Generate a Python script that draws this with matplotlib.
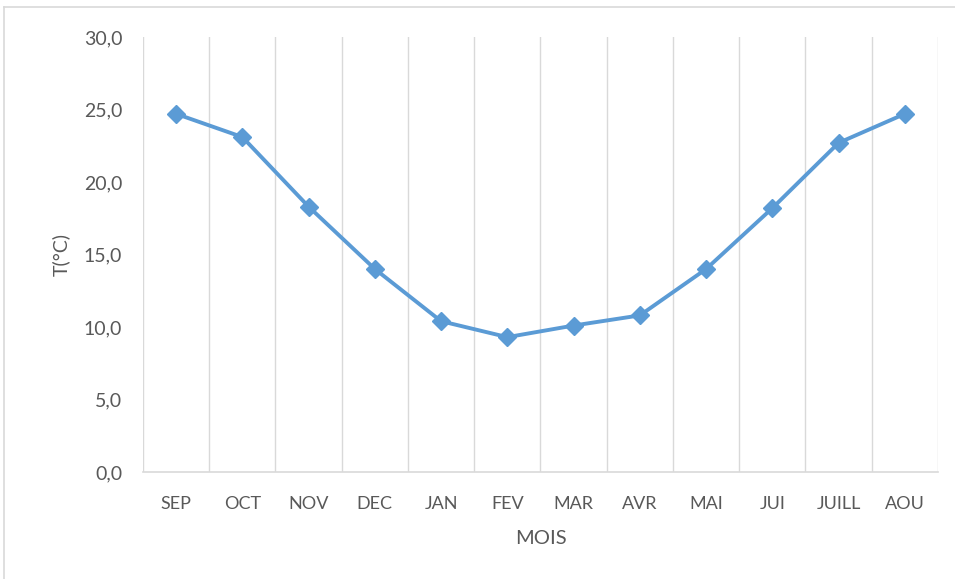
import numpy as np
import matplotlib.pyplot as plt
from matplotlib.lines import Line2D

# monthly mean temperatures
mois = ['SEP', 'OCT', 'NOV', 'DEC', 'JAN', 'FEV', 'MAR', 'AVR', 'MAI', 'JUI', 'JUILL', 'AOU']
temp = [24.7, 23.1, 18.3, 14.0, 10.4, 9.3, 10.1, 10.8, 14.0, 18.2, 22.7, 24.7]
y_ticks = [0, 5, 10, 15, 20, 25, 30]

plt.rcParams['font.family'] = ['Lato', 'DejaVu Sans']

fig = plt.figure(figsize=(9.55, 5.79), dpi=100)
ax = fig.add_axes([0.1497, 0.1848, 0.8325, 0.7513])

x = np.arange(len(mois))
ax.plot(x, temp, color='#5B9BD5', linewidth=2.8, marker='D', markersize=9.5)

ax.set_xlim(-0.5, len(mois) - 0.5)
ax.set_ylim(0, 30)
ax.set_yticks(y_ticks)
ax.set_yticklabels([f'{v:.1f}'.replace('.', ',') for v in y_ticks])
ax.set_xticks(x)
ax.set_xticklabels(mois)

# vertical gridlines between categories
ax.set_xticks(np.arange(-0.5, len(mois), 1), minor=True)
ax.grid(which='minor', axis='x', color='#D9D9D9', linewidth=1)
ax.tick_params(which='minor', length=0)
ax.tick_params(axis='x', length=0, pad=17, labelsize=13, labelcolor='#595959')
ax.tick_params(axis='y', length=0, pad=15, labelsize=14, labelcolor='#595959')

for s in ['top', 'right', 'left']:
    ax.spines[s].set_visible(False)
ax.spines['bottom'].set_color('#D9D9D9')
ax.spines['bottom'].set_linewidth(1.2)

ax.set_xlabel('MOIS', fontsize=14.5, color='#595959', labelpad=13)
ax.set_ylabel('T(°C)', fontsize=14, color='#595959', labelpad=10)

# chart frame
fig.add_artist(Line2D([0.004, 1.0], [0.988, 0.988], color='#D9D9D9', linewidth=1.2))
fig.add_artist(Line2D([0.004, 0.004], [0.0, 0.988], color='#D9D9D9', linewidth=1.2))

fig.savefig('out.png', dpi=100)
